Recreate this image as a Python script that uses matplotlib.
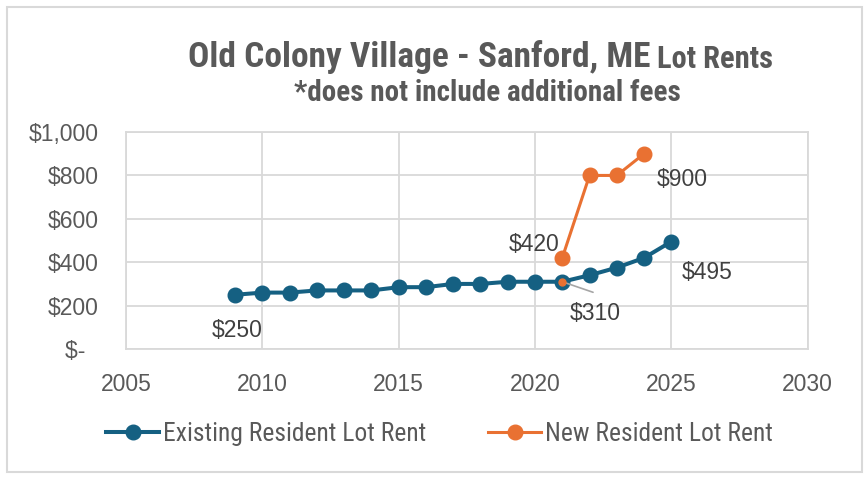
import matplotlib.pyplot as plt
from matplotlib.patches import Rectangle

# data
years_existing = [2009, 2010, 2011, 2012, 2013, 2014, 2015, 2016, 2017,
                  2018, 2019, 2020, 2021, 2022, 2023, 2024, 2025]
rent_existing = [250, 260, 260, 270, 270, 270, 285, 285, 300,
                 300, 310, 310, 310, 340, 375, 420, 495]
years_new = [2021, 2022, 2023, 2024]
rent_new = [420, 800, 800, 900]

xticks = [2005, 2010, 2015, 2020, 2025, 2030]
yticks = [0, 200, 400, 600, 800, 1000]
ytick_labels = ['$-  ', '$200', '$400', '$600', '$800', '$1,000']

blue = '#156082'
orange = '#E97132'
grey_txt = '#595959'
grid_col = '#d9d9d9'
narrow = ['Liberation Sans Narrow', 'Roboto Condensed', 'DejaVu Sans']
plain = ['Liberation Sans', 'DejaVu Sans']

fig = plt.figure(figsize=(8.65, 4.8), dpi=100)
fig.patches.append(Rectangle((0.008, 0.016), 0.988, 0.97, transform=fig.transFigure,
                             fill=False, edgecolor=grid_col, linewidth=1.5))
ax = fig.add_axes([0.1457, 0.2729, 0.788, 0.452])

ax.plot(years_existing, rent_existing, color=blue, lw=2.9, marker='o', ms=10.5,
        label='Existing Resident Lot Rent', zorder=3)
ax.plot(years_new, rent_new, color=orange, lw=2.2, marker='o', ms=10.5,
        label='New Resident Lot Rent', zorder=4)
# small orange point sitting on the 2021 existing marker
ax.plot([years_new[0]], [rent_existing[12]], 'o', color=orange, ms=5, zorder=5)

ax.set_xlim(2005, 2030)
ax.set_ylim(0, 1000)
ax.set_xticks(xticks)
ax.set_yticks(yticks)
ax.set_yticklabels(ytick_labels)
ax.grid(True, color=grid_col, lw=1.3)
ax.set_axisbelow(True)
for s in ax.spines.values():
    s.set_color(grid_col)
    s.set_linewidth(1.3)
ax.tick_params(length=0, labelsize=16.5, labelcolor=grey_txt)
ax.tick_params(axis='y', pad=20)
ax.tick_params(axis='x', pad=17)
for lab in ax.get_xticklabels() + ax.get_yticklabels():
    lab.set_family(plain)

lbl = dict(fontsize=16.5, color='#404040', family=plain, ha='center', va='center')
ax.annotate(f'${rent_existing[0]}', (years_existing[0], rent_existing[0]),
            xytext=(1.5, -26), textcoords='offset points', **lbl)
ax.annotate(f'${rent_existing[-1]}', (years_existing[-1], rent_existing[-1]),
            xytext=(25.8, -22.4), textcoords='offset points', **lbl)
ax.annotate(f'${rent_existing[12]}', (years_existing[12], rent_existing[12]),
            xytext=(24, -22.5), textcoords='offset points',
            arrowprops=dict(arrowstyle='-', color='#a6a6a6', lw=1.2,
                            shrinkA=0, shrinkB=0, relpos=(0.45, 1.4)),
            **lbl)
ax.annotate(f'${rent_new[0]}', (years_new[0], rent_new[0]),
            xytext=(-20.6, 9.3), textcoords='offset points', **lbl)
ax.annotate(f'${rent_new[-1]}', (years_new[-1], rent_new[-1]),
            xytext=(27.5, -18.4), textcoords='offset points', **lbl)

fig.text(0.752, 0.881, 'Old Colony Village - Sanford, ME', fontsize=25.5, fontweight='bold',
         color=grey_txt, family=narrow, ha='right', va='center')
fig.text(0.759, 0.878, 'Lot Rents', fontsize=22, fontweight='bold',
         color=grey_txt, family=narrow, ha='left', va='center')
fig.text(0.563, 0.806, '*does not include additional fees', fontsize=21,
         fontweight='bold', color=grey_txt, family=narrow, ha='center', va='center')

fig.legend(loc='center', bbox_to_anchor=(0.508, 0.096), ncol=2, frameon=False,
           prop=dict(family=narrow, size=18.4), labelcolor=grey_txt,
           handlelength=2.1, columnspacing=2.4, handletextpad=0.15)

fig.savefig('out.png', dpi=100)
